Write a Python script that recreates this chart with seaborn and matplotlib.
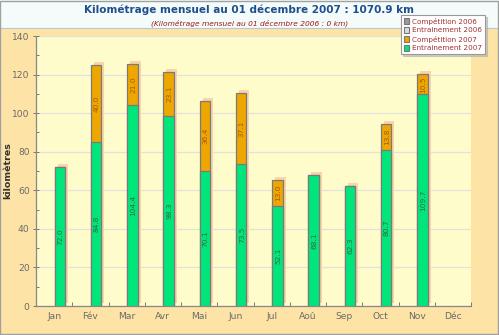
import numpy as np
import pandas as pd
import matplotlib
matplotlib.use("Agg")
import matplotlib.pyplot as plt
import matplotlib.patheffects as pe
from matplotlib.patches import Rectangle, Patch
import seaborn as sns

months = ["Jan", "Fév", "Mar", "Avr", "Mai", "Jun", "Jul", "Aoû", "Sep", "Oct", "Nov", "Déc"]
entrainement_2007 = [72.0, 84.8, 104.4, 98.3, 70.1, 73.5, 52.1, 68.1, 62.3, 80.7, 109.7, 0.0]
competition_2007 = [0.0, 40.0, 21.0, 23.1, 36.4, 37.1, 13.0, 0.0, 0.0, 13.8, 10.5, 0.0]
legend_labels = ["Compétition 2006", "Entrainement 2006", "Compétition 2007", "Entrainement 2007"]

total_km = sum(entrainement_2007) + sum(competition_2007)
title = f"Kilométrage mensuel au 01 décembre 2007 : {total_km:.1f} km"
subtitle = "(Kilométrage mensuel au 01 décembre 2006 : 0 km)"

C_ORANGE_BG = "#fee3a6"
C_TITLE_BG = "#f3fbfb"
C_PLOT_BG = "#fffccc"
C_GREEN = "#00e67a"
C_ORANGE = "#eea600"
C_GRAY06 = "#9a9a9a"
C_LGRAY06 = "#dcdcdc"
C_EDGE = "#7a7a7a"
C_SHADOW = "#f8d5aa"

df = pd.DataFrame({
    "mois": months,
    "entrainement": entrainement_2007,
    "total": np.array(entrainement_2007) + np.array(competition_2007),
})

sns.set_theme(style="white")
plt.rcParams["font.family"] = ["DejaVu Sans"]

fig = plt.figure(figsize=(4.99, 3.35), dpi=100)
fig.patch.set_facecolor(C_ORANGE_BG)

# title band
fig.patches.append(Rectangle((0, 1 - 28 / 335), 1, 28 / 335, transform=fig.transFigure,
                             facecolor=C_TITLE_BG, edgecolor="none", zorder=0))
fig.lines.append(plt.Line2D([0, 1], [1 - 28 / 335] * 2, transform=fig.transFigure,
                            color="#b8c8d0", lw=0.8))
fig.patches.append(Rectangle((0.001, 0.002), 0.997, 0.995, transform=fig.transFigure,
                             facecolor="none", edgecolor="#a0a0a0", lw=1.0, zorder=5))

ax = fig.add_axes([36 / 499, 1 - 306 / 335, (471 - 36) / 499, (306 - 36) / 335])
ax.set_facecolor(C_PLOT_BG)

bar_width = 0.29
shift = 0.16

# stacked bars: total (competition on top) then training over it
sns.barplot(data=df, x="mois", y="total", color=C_ORANGE, width=bar_width,
            edgecolor=C_EDGE, linewidth=0.9, saturation=1, ax=ax, zorder=3)
n_total = len(ax.patches)
sns.barplot(data=df, x="mois", y="entrainement", color=C_GREEN, width=bar_width,
            edgecolor=C_EDGE, linewidth=0.9, saturation=1, ax=ax, zorder=4)

shadow = [pe.SimplePatchShadow(offset=(2.2, 2.2), shadow_rgbFace=C_SHADOW, alpha=1.0), pe.Normal()]
for i, p in enumerate(ax.patches):
    p.set_x(p.get_x() + shift)
    if p.get_height() <= 0:
        p.set_visible(False)
    if i < n_total:
        p.set_path_effects(shadow)

# value labels inside each segment
for i in range(len(months)):
    xc = i + shift
    e = entrainement_2007[i]
    c = competition_2007[i]
    if e > 0:
        ax.text(xc + 0.02, e / 2, f"{e:.1f}", rotation=90, ha="center", va="center",
                fontsize=5.4, color="#2e6b3e", zorder=6)
    if c > 0:
        ax.text(xc + 0.02, e + c / 2, f"{c:.1f}", rotation=90, ha="center", va="center",
                fontsize=5.4, color="#a85a00", zorder=6)

ax.set_xlim(-0.5, 11.5)
ax.set_ylim(0, 140)
ax.set_yticks(np.arange(0, 141, 20))
ax.set_yticks(np.arange(0, 141, 10), minor=True)
ax.set_xticks(np.arange(len(months)))
ax.set_xticklabels(months)
ax.set_xticks(np.arange(len(months)) + 0.5, minor=True)
ax.tick_params(axis="x", which="major", length=0, labelsize=6.6, labelcolor="#6a6a6a", pad=4)
ax.tick_params(axis="x", which="minor", direction="in", length=3, width=0.7, color="#777777", bottom=True)
ax.tick_params(axis="y", which="major", direction="inout", length=5, width=0.7, color="#777777",
               labelsize=6.6, labelcolor="#6a6a6a", pad=2, left=True)
ax.tick_params(axis="y", which="minor", direction="in", length=2.5, width=0.7, color="#777777", left=True)
ax.yaxis.grid(True, color="#e2e2dc", lw=0.9, zorder=0)
ax.set_axisbelow(True)
for s in ["top", "right"]:
    ax.spines[s].set_visible(False)
for s in ["left", "bottom"]:
    ax.spines[s].set_color("#888888")
    ax.spines[s].set_linewidth(0.9)
ax.set_xlabel("")
ax.set_ylabel("kilomètres", fontsize=6.8, fontweight="bold", color="#333333")
ax.yaxis.set_label_coords(-0.055, 0.5)

fig.text(0.5, 1 - 10 / 335, title, ha="center", va="center", fontsize=7.5,
         fontweight="bold", color="#1f4e8c")
fig.text(0.5, 1 - 23 / 335, subtitle, ha="center", va="center", fontsize=5.4,
         style="italic", color="#a01818")

handles = [Patch(facecolor=col, edgecolor="#777777", lw=0.8)
           for col in [C_GRAY06, C_LGRAY06, C_ORANGE, C_GREEN]]
leg = fig.legend(handles, legend_labels, loc="upper left",
                 bbox_to_anchor=(401 / 499, 1 - 15 / 335), fontsize=5.2,
                 frameon=True, fancybox=False, shadow={"color": "#b0b0b0", "alpha": 0.6, "ox": 1.5, "oy": -1.5},
                 handlelength=0.8, handleheight=1.0,
                 handletextpad=0.4, labelspacing=0.3, borderpad=0.35, borderaxespad=0)
leg.get_frame().set_edgecolor("#999999")
leg.get_frame().set_linewidth(0.8)
leg.get_frame().set_facecolor("white")
for t in leg.get_texts():
    t.set_color("#a03030")

fig.savefig("out.png", dpi=100, facecolor=fig.get_facecolor())
